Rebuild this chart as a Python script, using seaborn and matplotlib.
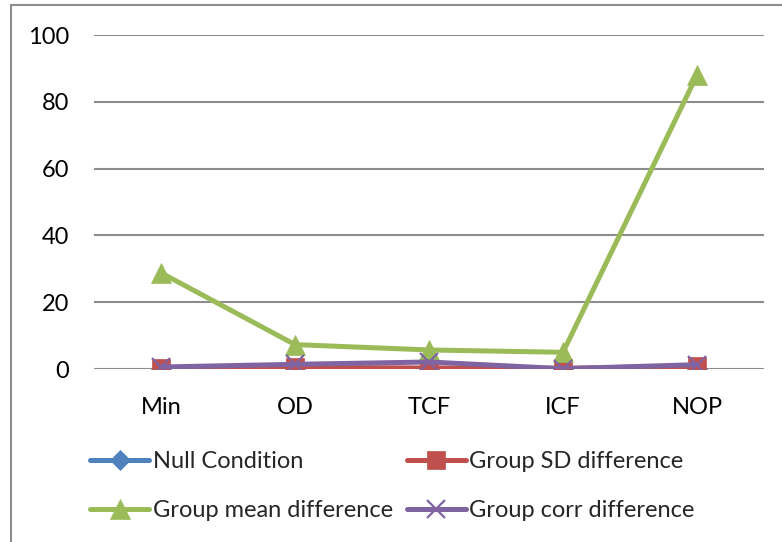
"""
Line chart: five conditions, four difference series (Excel-style look).
"""

import matplotlib
matplotlib.use("Agg")
import matplotlib.pyplot as plt
from matplotlib.patches import Rectangle
import seaborn as sns

# ─── DATA ────────────────────────────────────────────────────────────────────

categories = ["Min", "OD", "TCF", "ICF", "NOP"]

null_condition = [0.0, 0.0, 0.0, 0.0, 0.0]
group_sd_diff = [0.2, 0.5, 0.3, 0.2, 0.8]
group_mean_diff = [28.8, 7.3, 5.7, 5.0, 88.0]
group_corr_diff = [0.6, 1.4, 2.1, 0.1, 1.3]

series_names = ["Null Condition", "Group SD difference",
                "Group mean difference", "Group corr difference"]
yticks = [0, 20, 40, 60, 80, 100]

# ─── STYLE ───────────────────────────────────────────────────────────────────

sns.set_theme(style="white")
plt.rcParams["font.family"] = ["Lato", "DejaVu Sans"]

COLORS = ["#4F81BD", "#C0504D", "#9BBB59", "#8064A2"]
MARKERS = ["D", "s", "^", "x"]
SIZES = [10, 13, 14, 13]
GRID = "#8c8c8c"
FS = 17

fig = plt.figure(figsize=(7.82, 5.42), dpi=100)
ax = fig.add_axes([94 / 782, 1 - 369 / 542, (764 - 94) / 782, (369 - 35) / 542])

all_values = [null_condition, group_sd_diff, group_mean_diff, group_corr_diff]
handles = []
for name, vals, col, mk, ms in zip(series_names, all_values, COLORS, MARKERS, SIZES):
    sns.lineplot(x=categories, y=vals, ax=ax, color=col, lw=3.6,
                 marker=mk, markersize=ms, mec=col, mfc=col,
                 mew=1.6 if mk == "x" else 0.5, sort=False, label=name,
                 legend=False)
    handles.append(ax.lines[-1])

ax.set_xlim(-0.5, 4.5)
ax.set_ylim(0, 100)
ax.set_yticks(yticks)
ax.set_xlabel("")
ax.set_ylabel("")
for y in yticks:
    ax.axhline(y, color=GRID, lw=1.5, zorder=0)
for s in ax.spines.values():
    s.set_visible(False)
ax.tick_params(axis="y", length=0, pad=18, labelsize=FS, colors="black")
ax.tick_params(axis="x", length=0, pad=20, labelsize=FS, colors="black")

# legend: two rows, two columns (column-major fill)
order = [0, 2, 1, 3]
fig.legend([handles[i] for i in order], [series_names[i] for i in order],
           ncol=2, loc="upper left", bbox_to_anchor=(90 / 782, 1 - 451 / 542),
           frameon=False, fontsize=FS, handlelength=2.5, handletextpad=0.15,
           columnspacing=0.6, labelspacing=1.2, borderaxespad=0, borderpad=0)

# chart-area border (left and top edges visible)
fig.add_artist(Rectangle((11 / 782, -0.1), 2, 1.1 - 5 / 542,
                         transform=fig.transFigure, fill=False,
                         ec="#8c8c8c", lw=1.5))

fig.savefig("out.png", dpi=100)
plt.close()
